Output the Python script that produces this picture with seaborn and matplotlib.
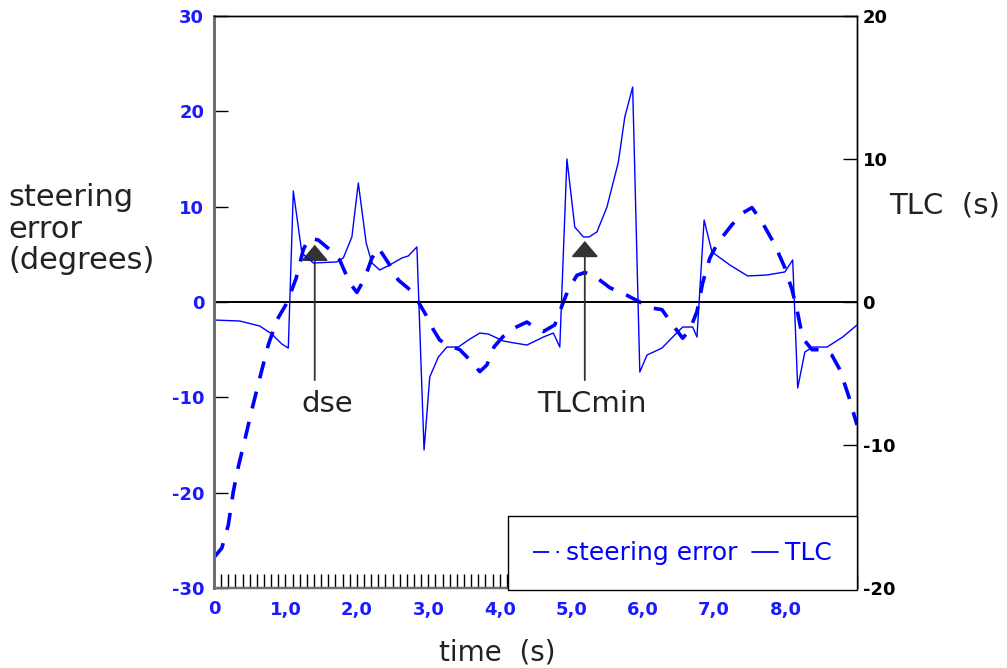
import numpy as np
import pandas as pd
import matplotlib
matplotlib.use("Agg")
import matplotlib.pyplot as plt
import seaborn as sns
from matplotlib.ticker import MultipleLocator, FixedLocator
from matplotlib.lines import Line2D

# ==============================
# DATA
# ==============================

time_se = [0.00, 0.11, 0.20, 0.27, 0.34, 0.43, 0.53, 0.64, 0.76, 0.88,
           1.02, 1.15, 1.25, 1.33, 1.46, 1.62, 1.76, 1.90, 2.00, 2.11,
           2.21, 2.30, 2.44, 2.58, 2.74, 2.86, 2.97, 3.07, 3.16, 3.30,
           3.44, 3.61, 3.72, 3.82, 3.92, 4.05, 4.21, 4.38, 4.49, 4.61,
           4.77, 4.89, 4.96, 5.08, 5.19, 5.33, 5.54, 5.78, 5.96, 6.10,
           6.27, 6.42, 6.56, 6.66, 6.76, 6.84, 6.94, 7.05, 7.25, 7.39,
           7.53, 7.67, 7.85, 7.99, 8.09, 8.16, 8.24, 8.37, 8.51, 8.65,
           8.76, 8.88, 9.00]
steer_err = [-26.8, -25.8, -23.4, -19.9, -17.3, -14.5, -11.3, -8.0, -4.5, -1.9,
             -0.1, 2.5, 5.5, 6.7, 6.5, 5.5, 4.4, 2.0, 1.0, 2.5,
             4.6, 5.7, 4.1, 2.3, 1.3, 0.0, -1.4, -2.9, -4.0, -4.6,
             -5.0, -6.3, -7.3, -6.6, -4.7, -3.6, -2.7, -2.1, -2.7, -3.1,
             -2.4, 0.0, 1.3, 2.8, 3.1, 2.7, 1.5, 0.7, 0.0, -0.6,
             -0.8, -2.4, -3.8, -2.9, -1.0, 2.0, 4.6, 6.2, 8.1, 9.3,
             9.9, 8.4, 6.0, 3.6, 1.3, -0.8, -3.8, -5.0, -5.0, -5.6,
             -7.1, -9.8, -12.9]

time_tlc = [0.00, 0.36, 0.64, 0.81, 0.95, 1.04, 1.11, 1.23, 1.39, 1.72,
            1.81, 1.93, 2.02, 2.13, 2.21, 2.32, 2.46, 2.63, 2.72, 2.84,
            2.94, 3.02, 3.14, 3.26, 3.42, 3.56, 3.72, 3.84, 4.05, 4.21,
            4.38, 4.61, 4.75, 4.84, 4.94, 5.05, 5.17, 5.25, 5.36, 5.50,
            5.66, 5.75, 5.86, 5.96, 6.06, 6.27, 6.42, 6.56, 6.70, 6.76,
            6.86, 6.97, 7.22, 7.47, 7.74, 7.99, 8.10, 8.17, 8.27, 8.38,
            8.58, 8.80, 9.00]
tlc = [-1.26, -1.33, -1.68, -2.24, -2.94, -3.22, 7.76, 3.43, 2.73, 2.80,
       3.08, 4.55, 8.32, 4.13, 2.73, 2.24, 2.59, 3.08, 3.22, 3.85,
       -10.35, -5.24, -3.85, -3.15, -3.15, -2.66, -2.17, -2.24, -2.73, -2.87,
       -3.01, -2.45, -2.17, -3.15, 10.0, 5.24, 4.55, 4.55, 4.90, 6.64,
       9.79, 12.94, 15.03, -4.90, -3.71, -3.22, -2.45, -1.75, -1.75, -2.45,
       5.73, 3.50, 2.59, 1.82, 1.89, 2.10, 2.94, -6.01, -3.50, -3.15,
       -3.15, -2.45, -1.61]

x_ticks = [0, 1, 2, 3, 4, 5, 6, 7, 8]
x_tick_labels = ["0", "1,0", "2,0", "3,0", "4,0", "5,0", "6,0", "7,0", "8,0"]
left_ticks = [-30, -20, -10, 0, 10, 20, 30]
right_ticks = [-20, -10, 0, 10, 20]

# annotation markers (label, time, steering error at arrow tip)
marks = [("dse", 1.41, 6.0), ("TLCmin", 5.19, 6.4)]

BLUE = "#0000ff"
LABEL_BLUE = "#1a1aff"
DARK = "#222222"

# ==============================
# FIGURE
# ==============================

sns.set_style("white")
plt.rcParams["font.family"] = ["DejaVu Sans"]
plt.rcParams["axes.unicode_minus"] = False

fig = plt.figure(figsize=(10.07, 6.68), dpi=100)
ax = fig.add_axes([214 / 1007, 1 - 588 / 668, 643 / 1007, 572 / 668])
ax2 = ax.twinx()

df_se = pd.DataFrame({"time": time_se, "err": steer_err})
df_tlc = pd.DataFrame({"time": time_tlc, "tlc": tlc})

sns.lineplot(data=df_se, x="time", y="err", ax=ax, color=BLUE,
             linewidth=2.6, sort=False, estimator=None)
ax.lines[-1].set_dashes((4.8, 3.8))

sns.lineplot(data=df_tlc, x="time", y="tlc", ax=ax2, color=BLUE,
             linewidth=1.0, sort=False, estimator=None)

ax.axhline(0, color="black", linewidth=1.4)

ax.set_xlim(0, 9)
ax.set_ylim(-30, 30)
ax2.set_ylim(-20, 20)

# ticks
ax.xaxis.set_major_locator(FixedLocator(x_ticks))
ax.set_xticklabels(x_tick_labels)
ax.xaxis.set_minor_locator(MultipleLocator(0.1))
ax.tick_params(axis="x", which="both", direction="in", length=10, width=1,
               color="black", pad=9, labelsize=13, labelcolor=LABEL_BLUE,
               bottom=True, top=False)
ax.set_yticks(left_ticks)
ax.tick_params(axis="y", which="major", direction="in", length=10, width=1,
               color="black", pad=7, labelsize=13, labelcolor=LABEL_BLUE,
               left=True, right=False)
for lab in ax.get_xticklabels() + ax.get_yticklabels():
    lab.set_fontweight("bold")

ax2.set_yticks(right_ticks)
ax2.tick_params(axis="y", direction="in", length=10, width=1, color="black",
                pad=4, labelsize=13, labelcolor="black")
for lab in ax2.get_yticklabels():
    lab.set_fontweight("bold")

# spines
for a in (ax, ax2):
    a.spines["left"].set_color("#6e6e6e")
    a.spines["left"].set_linewidth(2.0)
    a.spines["bottom"].set_color("#6e6e6e")
    a.spines["bottom"].set_linewidth(1.6)
    a.spines["top"].set_color("black")
    a.spines["top"].set_linewidth(1.0)
    a.spines["right"].set_color("black")
    a.spines["right"].set_linewidth(1.0)

# axis labels
ax.set_xlabel("time  (s)", fontsize=20, color=DARK)
ax.xaxis.set_label_coords((497 - 214) / 643, (588 - 652) / 572)
ax.xaxis.label.set_va("center")

ax.set_ylabel("steering\nerror\n(degrees)", fontsize=22, color=DARK,
              rotation=0, ha="left", va="center", linespacing=1.12)
ax.yaxis.set_label_coords((8 - 214) / 643, (588 - 229) / 572)

ax2.set_ylabel("TLC  (s)", fontsize=21, color=DARK, rotation=0,
               ha="left", va="center")
ax2.yaxis.set_label_coords((889 - 214) / 643, (588 - 205) / 572)

# annotations
for name, t, v in marks:
    ax.annotate("", xy=(t, v), xytext=(t, -8.2),
                arrowprops=dict(arrowstyle="-|>,head_length=1.0,head_width=0.85",
                                color="#333333", lw=1.3, shrinkA=0, shrinkB=0))
    ax.text(t + 0.17 if name == "dse" else t + 0.1, -10.7, name,
            fontsize=21, color=DARK, ha="center", va="center")

# legend
handles = [Line2D([], [], color=BLUE, linewidth=1.3, dashes=(9, 4)),
           Line2D([], [], color=BLUE, linewidth=1.3)]
leg = ax2.legend(handles, ["steering error", "TLC"], loc="lower right",
                 bbox_to_anchor=(1.0, -0.004), borderaxespad=0, ncol=2,
                 fontsize=18, frameon=True, fancybox=False, framealpha=1,
                 edgecolor="black", handlelength=1.05, handletextpad=0.3,
                 columnspacing=0.55, borderpad=1.0)
leg.get_frame().set_linewidth(1.0)
for txt in leg.get_texts():
    txt.set_color(BLUE)

fig.savefig("out.png", dpi=100)
